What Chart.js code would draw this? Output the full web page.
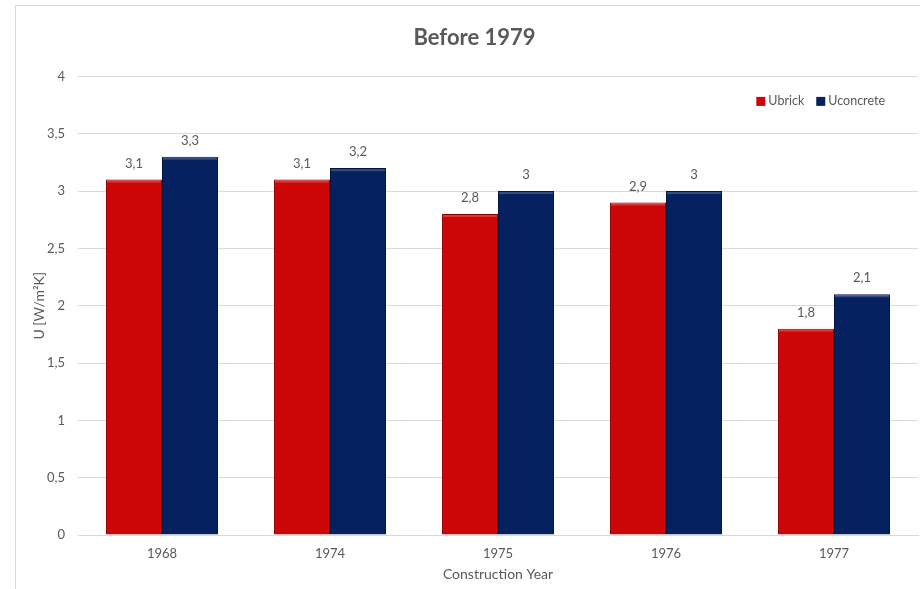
<!DOCTYPE html>
<html lang="en">
  <head>
    <meta charset="UTF-8" />
    <title>Before 1979</title>
    <script src="https://cdn.jsdelivr.net/npm/chart.js@4"></script>
    <style>
      html, body { margin: 0; padding: 0; background: #fff; overflow: hidden; }
      body { width: 920px; height: 589px; position: relative; }
      #frame {
        position: absolute; left: 15px; top: 5px; width: 926px; height: 584px;
        border-top: 1px solid #d9d9d9; border-left: 1px solid #d9d9d9;
        box-sizing: border-box;
      }
    </style>
  </head>
  <body>
    <div id="frame"><canvas id="Graph"></canvas></div>

    <script>
      const years = ['1968', '1974', '1975', '1976', '1977'];
      const ubrick = [3.1, 3.1, 2.8, 2.9, 1.8];
      const uconcrete = [3.3, 3.2, 3.0, 3.0, 2.1];

      const grey = '#595959';
      const fontName = 'Lato, "Open Sans", sans-serif';
      const comma = v => String(v).replace('.', ',');

      // value labels over each bar, plus a light top edge for the bevel look
      const valueLabels = {
        id: 'valueLabels',
        afterDatasetsDraw(chart) {
          const ctx = chart.ctx;
          ctx.save();
          ctx.font = '13px ' + fontName;
          ctx.textAlign = 'center';
          ctx.textBaseline = 'middle';
          chart.data.datasets.forEach((ds, i) => {
            chart.getDatasetMeta(i).data.forEach((bar, j) => {
              ctx.fillStyle = 'rgba(255,255,255,0.2)';
              ctx.fillRect(bar.x - bar.width / 2 + 1, bar.y + 1, bar.width - 2, 2);
              ctx.fillStyle = grey;
              ctx.fillText(comma(ds.data[j]), bar.x, bar.y - 16);
            });
          });
          ctx.restore();
        }
      };

      // legend sits inside the plot, top right
      const insideLegend = {
        id: 'insideLegend',
        afterDraw(chart) {
          const ctx = chart.ctx;
          const area = chart.chartArea;
          ctx.save();
          ctx.font = '12.5px ' + fontName;
          ctx.textBaseline = 'middle';
          const items = chart.data.datasets.map(ds => ({ text: ds.label, color: ds.backgroundColor }));
          const box = 9, gap = 3, space = 12;
          let total = 0;
          items.forEach(it => { total += box + gap + ctx.measureText(it.text).width + space; });
          total -= space;
          let x = area.right - 33 - total;
          const y = area.top + 25;
          items.forEach(it => {
            ctx.fillStyle = it.color;
            ctx.fillRect(x, y - box / 2, box, box);
            x += box + gap;
            ctx.fillStyle = grey;
            ctx.fillText(it.text, x, y);
            x += ctx.measureText(it.text).width + space;
          });
          ctx.restore();
        }
      };

      const element = document.getElementById('Graph').getContext('2d');
      const Graph = new Chart(element, {
        type: 'bar',
        data: {
          labels: years,
          datasets: [
            {
              label: 'Ubrick',
              data: ubrick,
              backgroundColor: '#CC0606',
              borderColor: '#960000',
              borderWidth: 1
            },
            {
              label: 'Uconcrete',
              data: uconcrete,
              backgroundColor: '#06215F',
              borderColor: '#031640',
              borderWidth: 1
            }
          ]
        },
        options: {
          responsive: true,
          maintainAspectRatio: false,
          animation: false,
          layout: { padding: { left: 15, right: 23, top: 0, bottom: 6 } },
          datasets: { bar: { categoryPercentage: 0.667, barPercentage: 1 } },
          plugins: {
            legend: { display: false },
            tooltip: { enabled: false },
            title: {
              display: true,
              text: 'Before 1979',
              color: grey,
              font: { family: fontName, size: 22, weight: 'bold' },
              padding: { top: 19, bottom: 25 }
            }
          },
          scales: {
            x: {
              afterFit: s => { s.height = 48; },
              grid: { display: false, drawTicks: false },
              border: { display: true, color: '#d9d9d9' },
              ticks: { color: grey, font: { family: fontName, size: 13 }, padding: 11 },
              title: {
                display: true,
                text: 'Construction Year',
                color: grey,
                font: { family: fontName, size: 14 },
                padding: { top: 0, bottom: 0 }
              }
            },
            y: {
              min: 0,
              max: 4,
              afterFit: s => { s.width = 47; },
              ticks: {
                stepSize: 0.5,
                color: grey,
                font: { family: fontName, size: 13 },
                padding: 13,
                callback: v => comma(v)
              },
              grid: { color: '#d9d9d9', drawTicks: false },
              border: { display: false },
              title: {
                display: true,
                text: 'U [W/m²K]',
                color: grey,
                font: { family: fontName, size: 14 },
                padding: { top: 0, bottom: 4 }
              }
            }
          }
        },
        plugins: [valueLabels, insideLegend]
      });
    </script>
  </body>
</html>
